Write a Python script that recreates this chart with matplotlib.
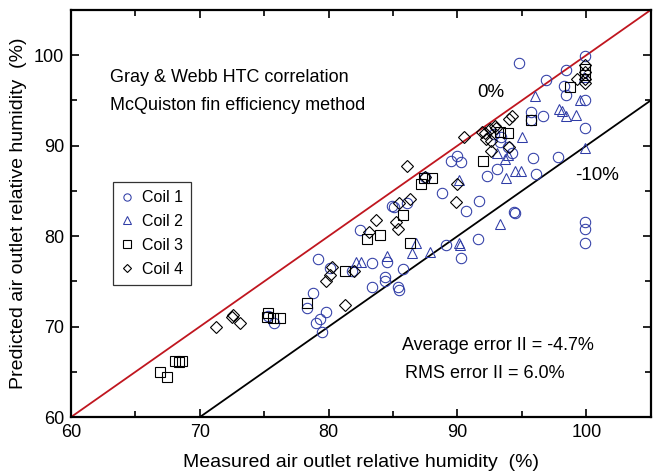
import matplotlib
matplotlib.use("Agg")
import matplotlib.pyplot as plt
from matplotlib.ticker import MultipleLocator

plt.rcParams['font.family'] = ['Liberation Sans', 'DejaVu Sans']

# measured vs predicted outlet RH (%), one pair of lists per coil
coil1_meas = [75.3, 75.8, 78.8, 78.3, 79.2, 79.8, 79.0, 79.3, 79.5, 80.1,
              82.4, 83.4, 84.5, 85.8, 84.4, 84.4, 83.4, 85.4, 85.5, 81.8,
              84.9, 85.1, 86.1, 87.5, 89.5, 90.0, 90.3, 88.8, 91.7, 90.7,
              92.3, 93.1, 91.6, 90.3, 89.1, 94.4, 92.8, 93.4, 93.3, 93.9,
              94.2, 94.8, 99.9, 98.4, 96.9, 98.3, 98.4, 99.9, 95.7, 95.7,
              96.6, 99.9, 95.9, 97.8, 96.1, 94.5, 99.9, 99.9, 99.9]
coil1_pred = [71.2, 70.4, 73.7, 72.1, 77.5, 71.6, 70.4, 70.9, 69.4, 76.5,
              80.7, 77.0, 77.2, 76.4, 75.5, 75.0, 74.4, 74.4, 74.0, 76.1,
              83.3, 83.2, 83.7, 86.5, 88.3, 88.9, 88.2, 84.8, 83.9, 82.8,
              86.7, 87.4, 79.7, 77.6, 79.0, 82.7, 91.3, 91.0, 90.4, 89.9,
              89.2, 99.1, 99.9, 98.4, 97.3, 96.6, 95.6, 95.0, 93.7, 92.8,
              93.3, 91.9, 88.6, 88.8, 86.9, 82.6, 81.6, 80.8, 79.3]

coil2_meas = [82.1, 82.5, 84.5, 86.8, 86.5, 87.9, 90.1, 90.2, 90.1, 93.3,
              93.8, 94.5, 94.9, 95.0, 93.1, 93.7, 93.9, 96.0, 97.9, 98.1,
              98.4, 99.2, 99.5, 99.9, 99.8]
coil2_pred = [77.2, 77.2, 77.8, 79.2, 78.1, 78.2, 79.3, 79.0, 86.2, 81.3,
              86.4, 87.2, 87.2, 91.0, 89.2, 88.5, 89.0, 95.5, 94.1, 93.8,
              93.3, 93.4, 95.0, 89.7, 97.6]

coil3_meas = [66.9, 67.5, 68.1, 68.4, 68.6, 75.3, 75.2, 75.7, 76.2, 78.3,
              81.3, 83.0, 84.0, 86.3, 85.8, 87.2, 87.4, 88.0, 92.0, 93.3,
              93.9, 95.7, 98.7, 99.9, 99.9]
coil3_pred = [65.0, 64.4, 66.2, 66.1, 66.2, 71.5, 71.1, 71.0, 71.0, 72.6,
              76.1, 79.7, 80.1, 79.3, 82.3, 85.8, 86.4, 86.4, 88.3, 91.5,
              91.4, 92.8, 96.5, 98.5, 97.8]

coil4_meas = [71.3, 72.5, 72.6, 73.1, 79.8, 80.3, 80.1, 82.0, 81.3, 83.7,
              83.1, 85.2, 85.4, 85.5, 86.3, 86.1, 87.5, 90.0, 89.9, 90.5,
              91.9, 92.1, 92.5, 92.9, 93.0, 94.0, 94.2, 92.2, 92.6, 92.6,
              94.0, 99.3, 99.9, 99.9, 99.9, 99.9]
coil4_pred = [70.0, 71.1, 71.3, 70.4, 75.1, 76.6, 75.7, 76.1, 72.4, 81.8,
              80.5, 81.6, 80.8, 83.7, 84.1, 87.7, 86.5, 85.8, 83.8, 91.0,
              91.5, 91.4, 91.8, 92.2, 91.9, 92.9, 93.3, 90.7, 90.5, 89.4,
              89.9, 97.4, 98.9, 98.1, 97.4, 96.9]

blue = '#2f3ca6'
red = '#c0161f'

fig = plt.figure(figsize=(6.56, 4.73), dpi=100)
ax = fig.add_axes([0.108, 0.118, 0.884, 0.861])

# reference lines: perfect agreement and -10 points
ax.plot([60, 105], [60, 105], color=red, lw=1.3, zorder=1)
ax.plot([70, 105], [60, 95], color='black', lw=1.3, zorder=1)

ms = 7.5
ax.plot(coil1_meas, coil1_pred, 'o', ms=ms, mfc='none', mec=blue, mew=0.75, label='Coil 1')
ax.plot(coil2_meas, coil2_pred, '^', ms=ms, mfc='none', mec=blue, mew=0.75, label='Coil 2')
ax.plot(coil3_meas, coil3_pred, 's', ms=ms, mfc='none', mec='black', mew=0.8, label='Coil 3')
ax.plot(coil4_meas, coil4_pred, 'D', ms=5.8, mfc='none', mec='black', mew=0.8, label='Coil 4')

ax.set_xlim(60, 105)
ax.set_ylim(60, 105)
ax.xaxis.set_major_locator(MultipleLocator(10))
ax.xaxis.set_minor_locator(MultipleLocator(5))
ax.yaxis.set_major_locator(MultipleLocator(10))
ax.yaxis.set_minor_locator(MultipleLocator(5))
ax.tick_params(which='both', direction='in', top=True, right=True, width=1.2)
ax.tick_params(which='major', length=6, labelsize=13, pad=5)
ax.tick_params(which='minor', length=4)
for s in ax.spines.values():
    s.set_linewidth(1.6)

ax.set_xlabel('Measured air outlet relative humidity  (%)', fontsize=14, labelpad=9)
ax.set_ylabel('Predicted air outlet relative humidity  (%)', fontsize=14, labelpad=5)

ax.text(63.0, 97.5, 'Gray & Webb HTC correlation', fontsize=13, va='center')
ax.text(63.0, 94.4, 'McQuiston fin efficiency method', fontsize=13, va='center')
ax.text(92.6, 95.9, '0%', fontsize=13.5, ha='center', va='center')
ax.text(100.8, 86.7, '-10%', fontsize=13.5, ha='center', va='center')
ax.text(85.7, 67.9, 'Average error II = -4.7%', fontsize=13, va='center')
ax.text(85.9, 64.8, 'RMS error II = 6.0%', fontsize=13, va='center')

leg = ax.legend(loc='upper left', bbox_to_anchor=(0.072, 0.577), fontsize=11.5,
                frameon=True, fancybox=False, edgecolor='black', markerscale=0.7,
                handlelength=0.8, handletextpad=0.55, labelspacing=0.55,
                borderpad=0.5, borderaxespad=0)
leg.get_frame().set_linewidth(0.9)

fig.savefig('out.png', dpi=100)
